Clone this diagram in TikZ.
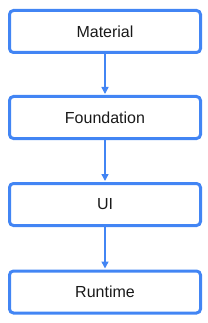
\documentclass[tikz,border=0pt]{standalone}
\usepackage{fontspec}
\setmainfont{Liberation Sans}
\usetikzlibrary{arrows.meta}
\definecolor{gblue}{HTML}{4285F4}
\begin{document}
\begin{tikzpicture}[x=1pt,y=1pt,
  layer/.style={draw=gblue, line width=3pt, rounded corners=4pt, minimum width=191pt, minimum height=42pt, inner sep=0pt, font=\fontsize{16}{18}\selectfont, text=black!90},
  conn/.style={draw=gblue, line width=1.5pt, -{Triangle[length=7pt,width=7pt]}, shorten >=1pt}]
\useasboundingbox (0,0) rectangle (208,-323);
\node[layer] (m) at (105,-31.5) {Material};
\node[layer] (f) at (105,-117.5) {Foundation};
\node[layer] (u) at (105,-204.5) {UI};
\node[layer] (r) at (105,-292) {Runtime};
\draw[conn] (m) -- (f);
\draw[conn] (f) -- (u);
\draw[conn] (u) -- (r);
\end{tikzpicture}
\end{document}
